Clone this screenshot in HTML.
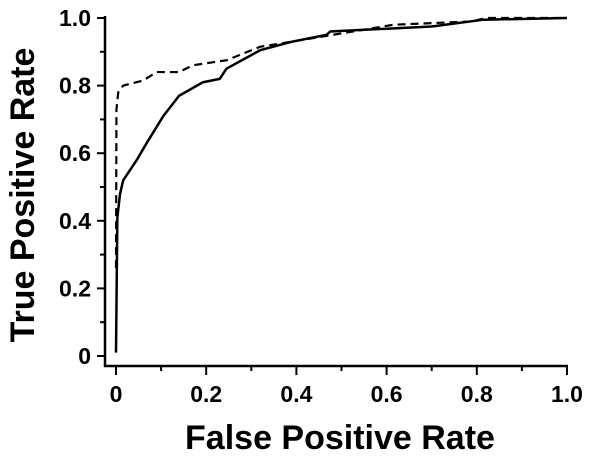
<!DOCTYPE html>
<html><head><meta charset="utf-8"><style>
body{margin:0;background:#fff}
svg{display:block;font-family:"Liberation Sans",Arial,sans-serif;font-weight:bold}
</style></head><body>
<svg id="c" width="600" height="458"></svg>
<script>
const xTicks=[0,0.2,0.4,0.6,0.8,1.0];
const xTickLabels=["0","0.2","0.4","0.6","0.8","1.0"];
const yTicks=[0,0.2,0.4,0.6,0.8,1.0];
const yTickLabels=["0","0.2","0.4","0.6","0.8","1.0"];
const solidFpr=[0,0.003,0.009,0.016,0.046,0.068,0.105,0.14,0.193,0.23,0.245,0.32,0.39,0.467,0.475,0.70,0.815,1.0];
const solidTpr=[0.01,0.41,0.48,0.52,0.58,0.63,0.71,0.77,0.81,0.82,0.85,0.905,0.93,0.95,0.96,0.975,0.995,1.0];
const dashFpr=[0,0.001,0.005,0.016,0.06,0.09,0.14,0.17,0.245,0.32,0.39,0.48,0.615,0.79,0.82,1.0];
const dashTpr=[0.26,0.73,0.78,0.80,0.815,0.84,0.84,0.86,0.875,0.915,0.93,0.95,0.98,0.99,1.0,1.0];
const NS="http://www.w3.org/2000/svg";
const svg=document.getElementById('c');
const X=v=>116+451*v, Y=v=>356-338*v;
function mk(t,a){const e=document.createElementNS(NS,t);for(const k in a)e.setAttribute(k,a[k]);svg.appendChild(e);return e;}
let e;
e=mk('line',{x1:105,y1:16,x2:105,y2:367,stroke:'#000','stroke-width':2.5});


e=mk('line',{x1:104,y1:366,x2:568,y2:366,stroke:'#000','stroke-width':2.5});


for(let i=0;i<=10;i++){const v=i/10,maj=i%2==0;
 e=mk('line',{x1:105,y1:Y(v),x2:maj?97:100,y2:Y(v),stroke:'#000','stroke-width':2});
 
 
 e=mk('line',{x1:X(v),y1:366,x2:X(v),y2:maj?375:371,stroke:'#000','stroke-width':2});
 
 
}
yTicks.forEach((v,i)=>{e=mk('text',{x:91,y:Y(v)+8,'text-anchor':'end','font-size':23});e.textContent=yTickLabels[i];
 
 });
xTicks.forEach((v,i)=>{e=mk('text',{x:X(v),y:402,'text-anchor':'middle','font-size':23});e.textContent=xTickLabels[i];
 
 });
e=mk('text',{x:340,y:449,'text-anchor':'middle','font-size':34});e.textContent='False Positive Rate';


e=mk('text',{x:0,y:0,'text-anchor':'middle','font-size':34,transform:'translate(34,195) rotate(-90)'});e.textContent='True Positive Rate';


const pts=(a,b)=>a.map((v,i)=>X(v)+','+Y(b[i])).join(' ');
e=mk('polyline',{points:pts(dashFpr,dashTpr),fill:'none',stroke:'#000','stroke-width':2.2,'stroke-dasharray':'8,5'});


e=mk('polyline',{points:pts(solidFpr,solidTpr),fill:'none',stroke:'#000','stroke-width':2.5});


</script>
</body></html>
